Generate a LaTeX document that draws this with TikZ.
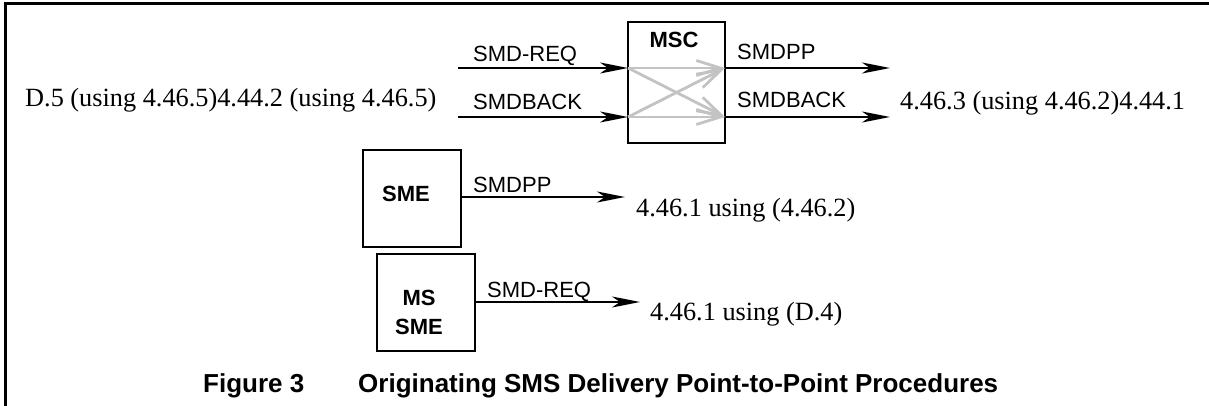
\documentclass[tikz,border=0pt]{standalone}
\usepackage{fontspec}
\setmainfont{Liberation Serif}
\setsansfont{Liberation Sans}
\usetikzlibrary{arrows.meta}
\tikzset{
  box/.style={draw, line width=2.6pt, rectangle, inner sep=0pt},
  blab/.style={font=\sffamily\bfseries\fontsize{22}{29}\selectfont, inner sep=0pt},
  lab/.style={font=\sffamily\fontsize{22}{24}\selectfont, inner sep=0pt, anchor=base west},
  ref/.style={font=\rmfamily\fontsize{26.3}{28}\selectfont, inner sep=0pt, anchor=base west},
  captext/.style={font=\sffamily\bfseries\fontsize{26}{28}\selectfont, inner sep=0pt, anchor=base west},
  sig/.style={line width=2.4pt, -{Stealth[length=28pt,width=11pt,inset=8pt]}},
  gsig/.style={line width=2.8pt, draw={rgb,255:red,195;green,195;blue,195}, -{Straight Barb[length=24pt,width=15pt,line width=2.8pt]}},
  frame/.style={line width=3pt}
}
\begin{document}
\begin{tikzpicture}[x=1pt,y=-1pt]
\useasboundingbox (0,0) rectangle (1209,406);
% frame
\coordinate (fbl) at (5,406);
\coordinate (ftl) at (5,3.5);
\coordinate (ftr) at (1209,3.5);
\draw[frame] (fbl) -- (ftl) -- (ftr);
% MSC
\node[box, minimum width=97pt, minimum height=121pt] (msc) at (676.5,82.5) {};
\node[blab] (msct) at (674,40) {MSC};
\coordinate (mi1) at (628,68);
\coordinate (mi2) at (628,117);
\coordinate (mo1) at (725,68);
\coordinate (mo2) at (725,117);
\coordinate (s1) at (458,68);
\coordinate (s2) at (458,117);
\coordinate (e1) at (890,68);
\coordinate (e2) at (890,117);
\draw[gsig] (mi1) -- (mo1);
\draw[gsig] (mi1) -- (mo2);
\draw[gsig] (mi2) -- (mo1);
\draw[gsig] (mi2) -- (mo2);
\draw[sig] (s1) -- (mi1);
\draw[sig] (s2) -- (mi2);
\draw[sig] (mo1) -- (e1);
\draw[sig] (mo2) -- (e2);
\node[lab] (l1) at (473,62) {SMD-REQ};
\node[lab] (l2) at (473,110) {SMDBACK};
\node[lab] (l3) at (737,60) {SMDPP};
\node[lab] (l4) at (737,108) {SMDBACK};
\node[ref] (tl) at (25,107) {D.5 (using 4.46.5)4.44.2 (using 4.46.5)};
\node[ref] (tr) at (900,110) {4.46.3 (using 4.46.2)4.44.1};
% SME
\node[box, minimum width=98pt, minimum height=97pt] (sme) at (412,198.5) {};
\node[blab] (smet) at (406,194) {SME};
\coordinate (sme1) at (461,197);
\coordinate (smee) at (625,197);
\draw[sig] (sme1) -- (smee);
\node[lab] (l5) at (473,193) {SMDPP};
\node[ref] (t3) at (636,216) {4.46.1 using (4.46.2)};
% MS SME
\node[box, minimum width=98pt, minimum height=97pt] (mssme) at (426,302.5) {};
\node[blab, align=center] (mssmet) at (419,312) {MS\\SME};
\coordinate (ms1) at (475,302);
\coordinate (mse) at (640,302);
\draw[sig] (ms1) -- (mse);
\node[lab] (l6) at (487,297) {SMD-REQ};
\node[ref] (t4) at (650,320) {4.46.1 using (D.4)};
% caption
\node[captext] (cap1) at (203,392) {Figure 3};
\node[captext] (cap2) at (358,392) {Originating SMS Delivery Point-to-Point Procedures};
\end{tikzpicture}
\end{document}
